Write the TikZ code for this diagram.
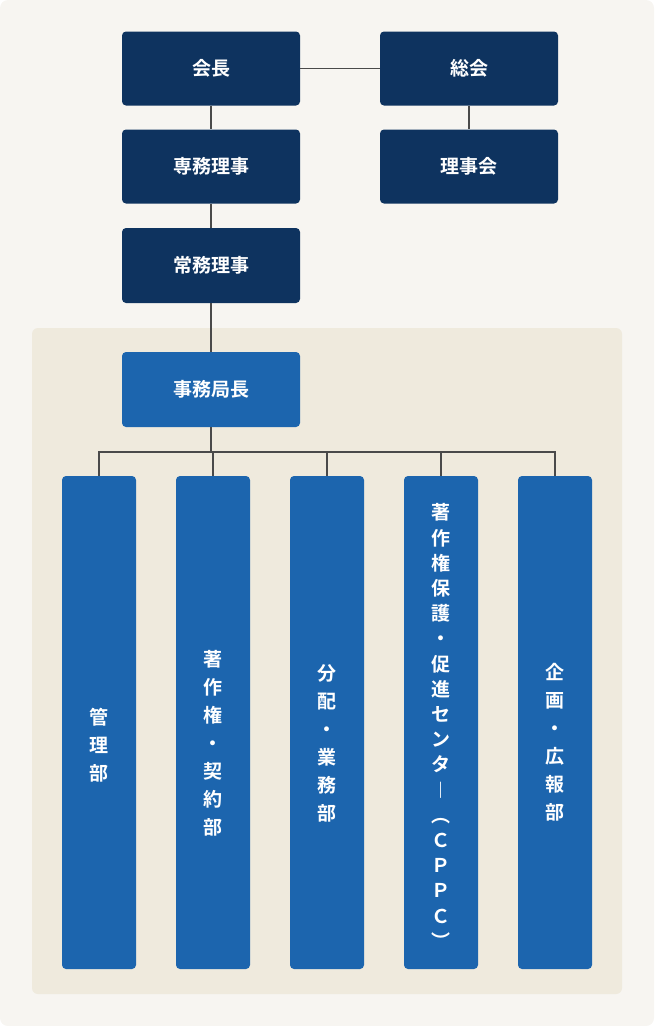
\documentclass[tikz,border=0pt]{standalone}
\usepackage{fontspec}
\newfontfamily\cjk{Noto Sans CJK JP Bold}
\definecolor{bgout}{HTML}{F7F5F1}
\definecolor{bgin}{HTML}{EFEADD}
\definecolor{navy}{HTML}{0E335F}
\definecolor{mid}{HTML}{1C65AE}
\definecolor{ln}{HTML}{4A4A4A}
\begin{document}
\begin{tikzpicture}[x=1pt,y=-1pt,
  top/.style={fill=navy,rounded corners=4pt,minimum width=178pt,minimum height=74pt,text=white,font=\cjk\fontsize{19}{22}\selectfont,inner sep=0pt},
  head/.style={top,fill=mid},
  col/.style={fill=mid,rounded corners=4pt,minimum width=74pt,minimum height=493pt,text=white,inner sep=0pt},
  vt/.style={align=center,text=white,font=\cjk\fontsize{19}{28}\selectfont},
  vt2/.style={align=center,text=white,font=\cjk\fontsize{19}{25.2}\selectfont},
  conn/.style={draw=ln,line width=1.2pt}]
\useasboundingbox (0,0) rectangle (654,1026);
\fill[bgout,rounded corners=8pt] (0,0) rectangle (654,1026);
\fill[bgin,rounded corners=6pt] (32,328) rectangle (622,994);
\node[top] (kaicho) at (211,68.5) {会長};
\node[top] (sokai) at (469,68.5) {総会};
\node[top] (senmu) at (211,166.5) {専務理事};
\node[top] (rijikai) at (469,166.5) {理事会};
\node[top,minimum height=75pt] (jomu) at (211,265.5) {常務理事};
\node[head,minimum height=75pt] (kyoku) at (211,389.5) {事務局長};
\node[col] (c1) at (99,722.5) {};
\node[col] (c2) at (213,722.5) {};
\node[col] (c3) at (327,722.5) {};
\node[col] (c4) at (441,722.5) {};
\node[col] (c5) at (555,722.5) {};
\node[vt] (t1) at (99,745) {管\\理\\部};
\node[vt] (t2) at (213,743) {著\\作\\権\\・\\契\\約\\部};
\node[vt] (t3) at (327,743) {分\\配\\・\\業\\務\\部};
\node[vt2] (t4) at (441,726) {著\\作\\権\\保\\護\\・\\促\\進\\セ\\ン\\タ\\︱\\︵\\Ｃ\\Ｐ\\Ｐ\\Ｃ\\︶};
\node[vt] (t5) at (555,742) {企\\画\\・\\広\\報\\部};
\draw[conn] (kaicho) -- (sokai);
\draw[conn] (sokai) -- (rijikai);
\draw[conn] (kaicho) -- (senmu);
\draw[conn] (senmu) -- (jomu);
\draw[conn] (jomu) -- (kyoku);
\coordinate (bus) at (211,452);
\draw[conn] (kyoku.south) -- (bus);
\draw[conn] (c1.north) |- (bus) -| (c5.north);
\draw[conn] (bus -| c2.north) -- (c2.north);
\draw[conn] (bus -| c3.north) -- (c3.north);
\draw[conn] (bus -| c4.north) -- (c4.north);
\end{tikzpicture}
\end{document}
